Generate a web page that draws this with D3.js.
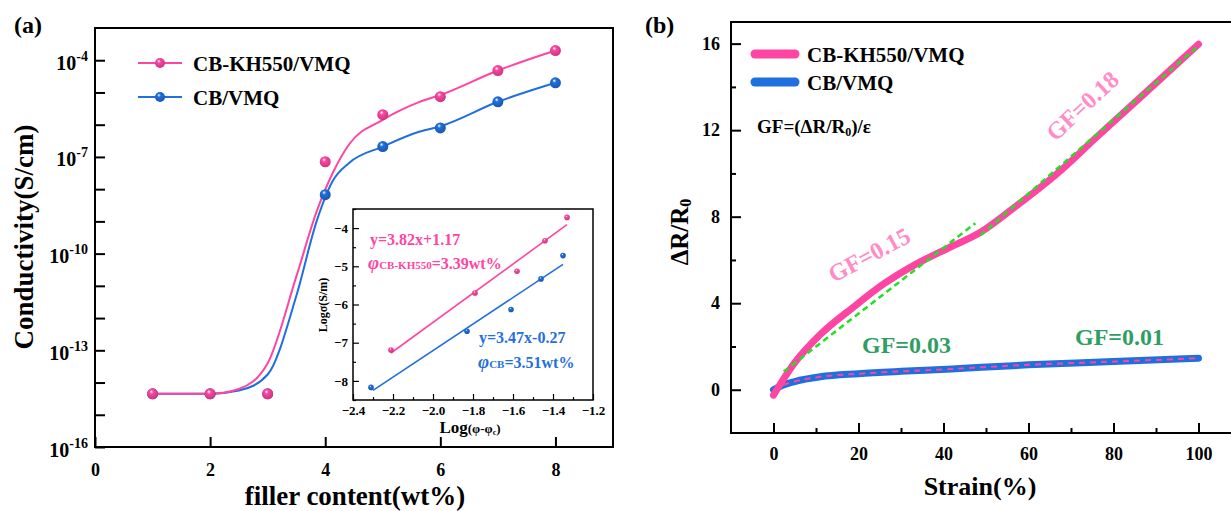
<!DOCTYPE html>
<html>
<head>
<meta charset="utf-8">
<script src="https://cdn.jsdelivr.net/npm/d3@7"></script>
<style>
body { margin: 0; background: #fff; }
svg text { font-family: "Liberation Serif", "Times New Roman", serif; font-weight: bold; }
</style>
</head>
<body>
<svg id="fig" width="1231" height="511"></svg>
<script>
// ---- (a) conductivity vs filler content, log10(S/cm)
const filler = [1, 2, 3, 4, 5, 6, 7, 8];
const condKH = [-14.35, -14.35, -14.35, -7.15, -5.69, -5.13, -4.32, -3.7];
const condCB = [-14.35, -14.35, -14.35, -8.17, -6.68, -6.1, -5.29, -4.7];
// fitted curves
const fitX  = [1, 2, 2.5, 3, 3.5, 3.85, 4.13, 4.42, 5, 5.63, 6, 7, 8];
const fitKH = [-14.35, -14.35, -14.2, -13.4, -10.7, -8.7, -7.5, -6.6, -5.85, -5.3, -5.08, -4.32, -3.7];
const fitCB = [-14.35, -14.35, -14.25, -13.75, -11.3, -9.0, -7.75, -7.18, -6.68, -6.22, -6.05, -5.29, -4.7];
const yTicksA = [-16, -13, -10, -7, -4];
const xTicksA = [0, 2, 4, 6, 8];

// ---- inset: log sigma vs log(phi - phic)
const insKHx = [-2.21, -1.79, -1.58, -1.44, -1.33];
const insKHy = [-7.19, -5.70, -5.13, -4.33, -3.72];
const insCBx = [-2.31, -1.83, -1.61, -1.46, -1.35];
const insCBy = [-8.17, -6.70, -6.13, -5.33, -4.72];
const insFitKH = [[-2.21, -7.27], [-1.33, -3.91]];
const insFitCB = [[-2.30, -8.25], [-1.35, -4.95]];
const insXTicks = [-2.4, -2.2, -2.0, -1.8, -1.6, -1.4, -1.2];
const insYTicks = [-8, -7, -6, -5, -4];

// ---- (b) relative resistance change vs strain
const strainKH = [0, 5, 11, 19, 26, 33, 41, 48.7, 56.5, 66.8, 76, 88, 100];
const respKH   = [-0.25, 1.25, 2.55, 3.85, 4.9, 5.75, 6.54, 7.28, 8.4, 10.0, 11.67, 13.82, 15.97];
const strainCB = [0, 2, 5, 11, 20, 30, 42, 49, 60, 80, 100];
const respCB   = [0, 0.2, 0.38, 0.6, 0.74, 0.85, 0.96, 1.04, 1.15, 1.3, 1.46];
const gfFit1 = [[2.4, 0.84], [47.5, 7.7]];
const gfFit2 = [[48.7, 7.14], [100, 15.9]];

const col = { pink: "#ff45a2", blue: "#1f6fde", green: "#22e022", gfText: "#2f9e62", gfPink: "#ff8cc8" };

const svg = d3.select("#fig");
const defs = svg.append("defs");

function ball(id, c) {
    const g = defs.append("radialGradient").attr("id", id)
        .attr("cx", "45%").attr("cy", "40%").attr("r", "60%").attr("fx", "38%").attr("fy", "30%");
    g.append("stop").attr("offset", "0%").attr("stop-color", "#fff");
    g.append("stop").attr("offset", "30%").attr("stop-color", c);
    g.append("stop").attr("offset", "100%").attr("stop-color", d3.color(c).darker(0.7));
}
ball("ballPink", col.pink);
ball("ballBlue", col.blue);

function styleAxis(g, fs, sw) {
    g.select(".domain").remove();
    g.attr("font-size", fs).attr("font-family", null);
    g.selectAll(".tick line").attr("stroke", "#000").attr("stroke-width", sw);
    g.selectAll(".tick text").attr("fill", "#000");
}

// ================= panel (a)
const xA = d3.scaleLinear().domain([0, 9]).range([95, 613]);
const yA = d3.scaleLinear().domain([-16, -3]).range([447, 28]);
const gA = svg.append("g");

gA.append("g").attr("transform", "translate(0,447)")
    .call(d3.axisBottom(xA).tickValues(xTicksA).tickSize(-10).tickPadding(16))
    .call(g => styleAxis(g, 18, 2));

const gyA = gA.append("g").attr("transform", "translate(95,0)")
    .call(d3.axisLeft(yA).tickValues(d3.range(-16, -3)).tickSize(-10).tickPadding(7)
        .tickFormat(d => yTicksA.includes(d) ? d : ""))
    .call(g => styleAxis(g, 20, 2));
gyA.selectAll(".tick text").filter(d => yTicksA.includes(d)).each(function (d) {
    const t = d3.select(this).text(null).attr("dy", "0.45em");
    t.append("tspan").text("10");
    t.append("tspan").attr("font-size", 14).attr("dy", -9).text(d);
});

gA.append("rect").attr("x", 95).attr("y", 28).attr("width", 518).attr("height", 419)
    .attr("fill", "none").attr("stroke", "#000").attr("stroke-width", 2);

const lineA = d3.line().x(d => xA(d[0])).y(d => yA(d[1])).curve(d3.curveMonotoneX);
gA.append("path").attr("d", lineA(d3.zip(fitX, fitCB)))
    .attr("fill", "none").attr("stroke", col.blue).attr("stroke-width", 2);
gA.append("path").attr("d", lineA(d3.zip(fitX, fitKH)))
    .attr("fill", "none").attr("stroke", col.pink).attr("stroke-width", 2);
gA.append("g").selectAll("circle").data(d3.zip(filler, condCB)).join("circle")
    .attr("cx", d => xA(d[0])).attr("cy", d => yA(d[1])).attr("r", 5.5).attr("fill", "url(#ballBlue)");
gA.append("g").selectAll("circle").data(d3.zip(filler, condKH)).join("circle")
    .attr("cx", d => xA(d[0])).attr("cy", d => yA(d[1])).attr("r", 5.5).attr("fill", "url(#ballPink)");

// legend (a)
[["CB-KH550/VMQ", col.pink, "url(#ballPink)", 63], ["CB/VMQ", col.blue, "url(#ballBlue)", 97]].forEach(([name, c, f, y]) => {
    gA.append("line").attr("x1", 138).attr("x2", 182).attr("y1", y).attr("y2", y).attr("stroke", c).attr("stroke-width", 2);
    gA.append("circle").attr("cx", 160).attr("cy", y).attr("r", 5).attr("fill", f);
    gA.append("text").attr("x", 193).attr("y", y + 8).attr("font-size", 21).text(name);
});

gA.append("text").attr("x", 14).attr("y", 33).attr("font-size", 24).text("(a)");
gA.append("text").attr("transform", "translate(33,237) rotate(-90)").attr("text-anchor", "middle")
    .attr("font-size", 27).text("Conductivity(S/cm)");
gA.append("text").attr("x", 355).attr("y", 505).attr("text-anchor", "middle")
    .attr("font-size", 27).text("filler content(wt%)");

// ---- inset
const xI = d3.scaleLinear().domain([-2.4, -1.2]).range([353, 593]);
const yI = d3.scaleLinear().domain([-8.5, -3.5]).range([400, 209]);
const gI = gA.append("g");
gI.append("rect").attr("x", 353).attr("y", 209).attr("width", 240).attr("height", 191)
    .attr("fill", "#fff").attr("stroke", "none");
gI.append("g").attr("transform", "translate(0,400)")
    .call(d3.axisBottom(xI).tickValues(insXTicks.slice(0, -1).map(v => v + 0.1)).tickSize(-3).tickFormat(""))
    .call(g => styleAxis(g, 13, 1.2));
gI.append("g").attr("transform", "translate(0,400)")
    .call(d3.axisBottom(xI).tickValues(insXTicks).tickSize(-6).tickPadding(6).tickFormat(d3.format(".1f")))
    .call(g => styleAxis(g, 13, 1.2));
gI.append("g").attr("transform", "translate(353,0)")
    .call(d3.axisLeft(yI).tickValues(insYTicks.map(v => v - 0.5).concat([-3.5])).tickSize(-3).tickFormat(""))
    .call(g => styleAxis(g, 13, 1.2));
gI.append("g").attr("transform", "translate(353,0)")
    .call(d3.axisLeft(yI).tickValues(insYTicks).tickSize(-6).tickPadding(5).tickFormat(d3.format("d")))
    .call(g => styleAxis(g, 13, 1.2));
gI.append("rect").attr("x", 353).attr("y", 209).attr("width", 240).attr("height", 191)
    .attr("fill", "none").attr("stroke", "#000").attr("stroke-width", 1.5);

const lineI = d3.line().x(d => xI(d[0])).y(d => yI(d[1]));
gI.append("path").attr("d", lineI(insFitKH)).attr("stroke", col.pink).attr("stroke-width", 1.6).attr("fill", "none");
gI.append("path").attr("d", lineI(insFitCB)).attr("stroke", col.blue).attr("stroke-width", 1.6).attr("fill", "none");
gI.append("g").selectAll("circle").data(d3.zip(insKHx, insKHy)).join("circle")
    .attr("cx", d => xI(d[0])).attr("cy", d => yI(d[1])).attr("r", 2.8).attr("fill", "url(#ballPink)");
gI.append("g").selectAll("circle").data(d3.zip(insCBx, insCBy)).join("circle")
    .attr("cx", d => xI(d[0])).attr("cy", d => yI(d[1])).attr("r", 2.8).attr("fill", "url(#ballBlue)");

gI.append("text").attr("x", 370).attr("y", 245).attr("font-size", 16).attr("fill", col.pink).text("y=3.82x+1.17");
const phiKH = gI.append("text").attr("x", 368).attr("y", 269).attr("font-size", 16).attr("fill", col.pink);
phiKH.append("tspan").attr("font-style", "italic").attr("font-size", 19).text("φ");
phiKH.append("tspan").attr("font-size", 11).text("CB-KH550");
phiKH.append("tspan").text("=3.39wt%");
gI.append("text").attr("x", 479).attr("y", 343).attr("font-size", 16).attr("fill", col.blue).text("y=3.47x-0.27");
const phiCB = gI.append("text").attr("x", 478).attr("y", 368).attr("font-size", 16).attr("fill", col.blue);
phiCB.append("tspan").attr("font-style", "italic").attr("font-size", 19).text("φ");
phiCB.append("tspan").attr("font-size", 11).text("CB");
phiCB.append("tspan").text("=3.51wt%");

const xlabI = gI.append("text").attr("x", 470).attr("y", 433).attr("text-anchor", "middle").attr("font-size", 17);
xlabI.append("tspan").text("Log");
xlabI.append("tspan").attr("font-size", 13).text("(φ-φ");
xlabI.append("tspan").attr("font-size", 8).attr("dy", 2).text("c");
xlabI.append("tspan").attr("font-size", 13).attr("dy", -2).text(")");
gI.append("text").attr("transform", "translate(327,305) rotate(-90)").attr("text-anchor", "middle")
    .attr("font-size", 12).text("Logσ(S/m)");

// ================= panel (b)
const xB = d3.scaleLinear().domain([-10, 110]).range([731, 1241]);
const yB = d3.scaleLinear().domain([-2, 17]).range([433, 22]);
const gB = svg.append("g");

gB.append("g").attr("transform", "translate(0,433)")
    .call(d3.axisBottom(xB).tickValues(d3.range(10, 100, 20)).tickSize(-5).tickFormat(""))
    .call(g => styleAxis(g, 18, 2));
gB.append("g").attr("transform", "translate(0,433)")
    .call(d3.axisBottom(xB).tickValues(d3.range(0, 101, 20)).tickSize(-10).tickPadding(14))
    .call(g => styleAxis(g, 18, 2));
gB.append("g").attr("transform", "translate(731,0)")
    .call(d3.axisLeft(yB).tickValues(d3.range(2, 16, 4)).tickSize(-5).tickFormat(""))
    .call(g => styleAxis(g, 18, 2));
gB.append("g").attr("transform", "translate(731,0)")
    .call(d3.axisLeft(yB).tickValues(d3.range(0, 17, 4)).tickSize(-10).tickPadding(11))
    .call(g => styleAxis(g, 18, 2));
gB.append("path").attr("d", "M1231,22H731V433H1231")
    .attr("fill", "none").attr("stroke", "#000").attr("stroke-width", 2);

const lineB = d3.line().x(d => xB(d[0])).y(d => yB(d[1])).curve(d3.curveMonotoneX);
gB.append("path").attr("d", lineB(d3.zip(strainCB, respCB)))
    .attr("fill", "none").attr("stroke", col.blue).attr("stroke-width", 7).attr("stroke-linecap", "round");
gB.append("path").attr("d", lineB(d3.zip(strainCB, respCB)))
    .attr("fill", "none").attr("stroke", col.pink).attr("stroke-width", 2).attr("stroke-dasharray", "6,5");
gB.append("path").attr("d", lineB(d3.zip(strainKH, respKH)))
    .attr("fill", "none").attr("stroke", col.pink).attr("stroke-width", 7).attr("stroke-linecap", "round");
[gfFit1, gfFit2].forEach(f => {
    gB.append("path").attr("d", lineB(f)).attr("fill", "none")
        .attr("stroke", col.green).attr("stroke-width", 2.5).attr("stroke-dasharray", "6,4");
});

// legend (b)
[["CB-KH550/VMQ", col.pink, 54], ["CB/VMQ", col.blue, 82]].forEach(([name, c, y]) => {
    gB.append("line").attr("x1", 755).attr("x2", 795).attr("y1", y).attr("y2", y)
        .attr("stroke", c).attr("stroke-width", 9).attr("stroke-linecap", "round");
    gB.append("text").attr("x", 807).attr("y", y + 8).attr("font-size", 21).text(name);
});
const gfEq = gB.append("text").attr("x", 757).attr("y", 133).attr("font-size", 19);
gfEq.append("tspan").text("GF=(ΔR/R");
gfEq.append("tspan").attr("font-size", 12).attr("dy", 3).text("0");
gfEq.append("tspan").attr("dy", -3).text(")/ε");

gB.append("text").attr("transform", "translate(873,262) rotate(-28)").attr("text-anchor", "middle")
    .attr("font-size", 24).attr("fill", col.gfPink).text("GF=0.15");
gB.append("text").attr("transform", "translate(1088,112) rotate(-43)").attr("text-anchor", "middle")
    .attr("font-size", 24).attr("fill", col.gfPink).text("GF=0.18");
gB.append("text").attr("x", 862).attr("y", 353).attr("font-size", 24).attr("fill", col.gfText).text("GF=0.03");
gB.append("text").attr("x", 1075).attr("y", 345).attr("font-size", 24).attr("fill", col.gfText).text("GF=0.01");

gB.append("text").attr("x", 645).attr("y", 33).attr("font-size", 24).text("(b)");
const ylabB = gB.append("text").attr("transform", "translate(688,232) rotate(-90)")
    .attr("text-anchor", "middle").attr("font-size", 25);
ylabB.append("tspan").text("ΔR/R");
ylabB.append("tspan").attr("font-size", 16).attr("dy", 3).text("0");
gB.append("text").attr("x", 980).attr("y", 495).attr("text-anchor", "middle")
    .attr("font-size", 26).text("Strain(%)");
</script>
</body>
</html>
